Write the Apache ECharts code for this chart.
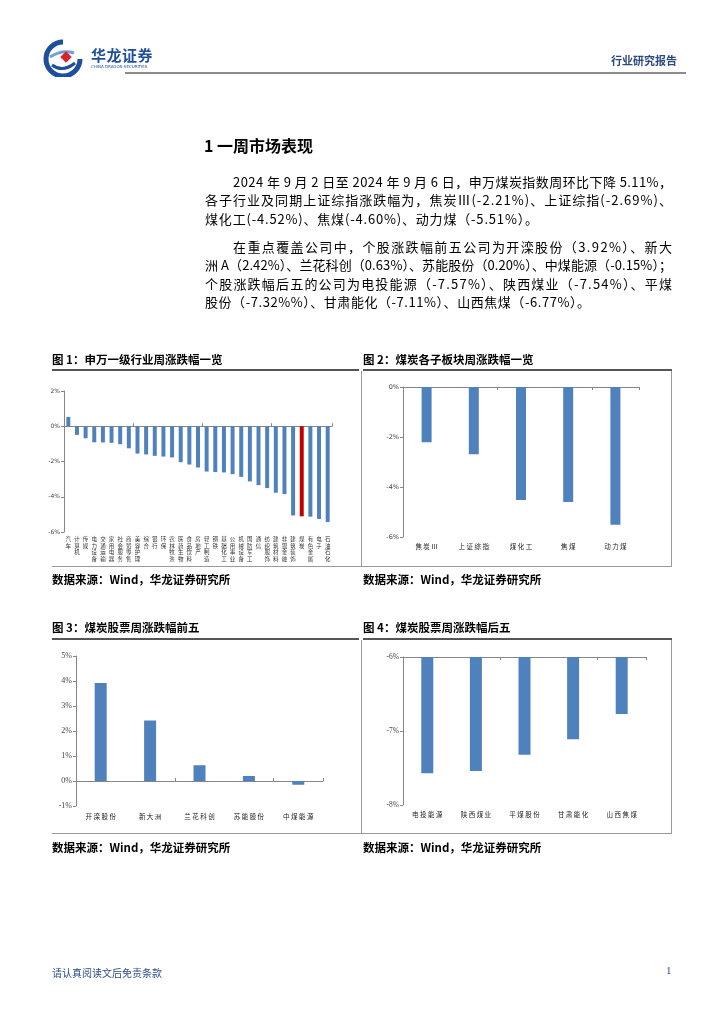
<!DOCTYPE html>
<html><head><meta charset="utf-8">
<script src="https://cdn.jsdelivr.net/npm/echarts/dist/echarts.min.js"></script>
<style>
body{margin:0;width:724px;height:1024px;position:relative;background:#fff;font-family:"Noto Sans CJK SC","Noto Sans",sans-serif;overflow:hidden;color:#000}
.a{position:absolute;white-space:nowrap}
.jl{position:absolute;white-space:nowrap;font-size:13px;line-height:18px;display:inline-block}
.ttl{position:absolute;white-space:nowrap;font-size:11.5px;font-weight:bold;line-height:14px}
.hl{position:absolute;background:#555}
.tl{position:absolute;background:#9a9a9a}
#c{position:absolute;left:0;top:0;width:724px;height:1024px}
</style></head><body>
<div id="c"></div>

<svg class="a" style="left:42px;top:39px" width="42" height="38" viewBox="0 0 42 38">
  <path d="M21 3 A17 17 0 1 0 38 20" stroke="#1d4f9c" stroke-width="5" fill="none"/>
  <path d="M10 26 Q21 34 33 24" stroke="#1d4f9c" stroke-width="3" fill="none"/>
  <path d="M8 18 Q20 10 32 14" stroke="#6fa0d8" stroke-width="3" fill="none"/>
  <rect x="20" y="14" width="8" height="8" fill="#d9252a" transform="rotate(45 24 18)"/>
</svg>
<div class="a" style="left:91px;top:44px;font-size:15px;font-weight:bold;color:#1d4f9c;letter-spacing:0.5px">华龙证券</div>
<div class="a" style="left:91px;top:64px;font-size:4px;color:#1d4f9c;font-family:'DejaVu Sans'">CHINA DRAGON SECURITIES</div>
<div class="a" style="left:125px;top:72px;width:561px;height:2px;background:#8c8c8c"></div>
<div class="a" style="left:611px;top:52px;font-size:11px;font-weight:bold;color:#2a4a80">行业研究报告</div>

<div class="a" style="left:204px;top:134px;font-size:16px;font-weight:bold;line-height:22px">1 一周市场表现</div>

<div class="jl" data-w="439" style="left:233px;top:173px">2024 年 9 月 2 日至 2024 年 9 月 6 日，申万煤炭指数周环比下降 5.11%，</div>
<div class="jl" data-w="467" style="left:205px;top:191px">各子行业及同期上证综指涨跌幅为，焦炭Ⅲ(-2.21%)、上证综指(-2.69%)、</div>
<div class="jl" data-w="333" style="left:205px;top:209.5px">煤化工(-4.52%)、焦煤(-4.60%)、动力煤（-5.51%）。</div>
<div class="jl" data-w="439" style="left:233px;top:237.5px">在重点覆盖公司中，个股涨跌幅前五公司为开滦股份（3.92%）、新大</div>
<div class="jl" data-w="467" style="left:205px;top:256px">洲 A（2.42%）、兰花科创（0.63%）、苏能股份（0.20%）、中煤能源（-0.15%）；</div>
<div class="jl" data-w="467" style="left:205px;top:274.5px">个股涨跌幅后五的公司为电投能源（-7.57%）、陕西煤业（-7.54%）、平煤</div>
<div class="jl" data-w="385" style="left:205px;top:293px">股份（-7.32%%）、甘肃能化（-7.11%）、山西焦煤（-6.77%）。</div>

<div class="ttl" style="left:52px;top:352px">图 1：申万一级行业周涨跌幅一览</div>
<div class="ttl" style="left:363px;top:352px">图 2：煤炭各子板块周涨跌幅一览</div>
<div class="hl" style="left:52px;top:369px;width:307px;height:2px"></div>
<div class="hl" style="left:363px;top:369px;width:309px;height:2px"></div>
<div class="tl" style="left:361px;top:371px;width:1px;height:195px"></div>
<div class="tl" style="left:671px;top:371px;width:1px;height:195px"></div>
<div class="tl" style="left:52px;top:566px;width:620px;height:1px"></div>
<div class="ttl" style="left:52px;top:572px">数据来源：Wind，华龙证券研究所</div>
<div class="ttl" style="left:363px;top:572px">数据来源：Wind，华龙证券研究所</div>

<div class="ttl" style="left:52px;top:620px">图 3：煤炭股票周涨跌幅前五</div>
<div class="ttl" style="left:363px;top:620px">图 4：煤炭股票周涨跌幅后五</div>
<div class="hl" style="left:52px;top:638px;width:307px;height:2px"></div>
<div class="hl" style="left:363px;top:638px;width:309px;height:2px"></div>
<div class="tl" style="left:361px;top:640px;width:1px;height:193px"></div>
<div class="tl" style="left:671px;top:640px;width:1px;height:193px"></div>
<div class="tl" style="left:52px;top:833px;width:620px;height:1px"></div>
<div class="ttl" style="left:52px;top:840px">数据来源：Wind，华龙证券研究所</div>
<div class="ttl" style="left:363px;top:840px">数据来源：Wind，华龙证券研究所</div>

<div class="a" style="left:52px;top:965px;font-size:10px;color:#2f4f86">请认真阅读文后免责条款</div>
<div class="a" style="left:666px;top:964px;font-size:11px;color:#2f4f86;font-family:'Liberation Serif'">1</div>

<script>
// ---- data ----
const industryCats = ['汽车','计算机','传媒','电力设备','交通运输','家用电器','社会服务','商贸零售','美容护理','综合','银行','环保','农林牧渔','医药生物','食品饮料','房地产','轻工制造','钢铁','基础化工','公用事业','机械设备','国防军工','通信','纺织服饰','建筑材料','非银金融','建筑装饰','煤炭','有色金属','电子','石油石化'];
const industryVals = [0.53,-0.49,-0.68,-0.91,-0.92,-0.94,-1.02,-1.25,-1.55,-1.60,-1.68,-1.72,-1.77,-2.04,-2.17,-2.34,-2.57,-2.60,-2.62,-2.72,-2.87,-3.13,-3.34,-3.51,-3.77,-3.85,-5.06,-5.11,-5.13,-5.26,-5.43];
const highlightCat = '煤炭';
const subCats = ['焦炭Ⅲ','上证综指','煤化工','焦煤','动力煤'];
const subVals = [-2.21,-2.69,-4.52,-4.60,-5.51];
const topCats = ['开滦股份','新大洲','兰花科创','苏能股份','中煤能源'];
const topVals = [3.92,2.42,0.63,0.20,-0.15];
const bottomCats = ['电投能源','陕西煤业','平煤股份','甘肃能化','山西焦煤'];
const bottomVals = [-7.57,-7.54,-7.32,-7.11,-6.77];

// ---- justify text lines ----
document.querySelectorAll('.jl').forEach(el=>{
  const w = +el.dataset.w;
  const cur = el.getBoundingClientRect().width;
  const n = el.textContent.length;
  el.style.letterSpacing = ((w-cur)/(n-1))+'px';
});

const BLUE='#4f81bd', RED='#c00000', AX='#868686';
const spaced = v => v.split('').join(' ');
function yAx(gi,min,max,itv,fs,ff){
  return {type:'value',gridIndex:gi,min:min,max:max,interval:itv,
    axisLine:{show:true,lineStyle:{color:AX,width:1}},
    axisTick:{show:true,length:3,lineStyle:{color:AX}},
    splitLine:{show:false},
    axisLabel:{fontSize:fs,color:'#444',fontFamily:ff,margin:4,formatter:v=>Math.round(v)+'%'}};
}
function xLab(gi,cats,opt){
  return Object.assign({type:'category',gridIndex:gi,data:cats,position:'bottom',
    axisLine:{show:false,onZero:false},axisTick:{show:false},splitLine:{show:false}},opt);
}
function xLine(gi,cats,pos,inside){
  return {type:'category',gridIndex:gi,data:cats,position:pos,
    axisLine:{show:true,onZero:true,lineStyle:{color:AX,width:1}},
    axisTick:{show:true,length:3,inside:inside,lineStyle:{color:AX}},
    axisLabel:{show:false},splitLine:{show:false}};
}
const ff='"Noto Sans CJK SC",sans-serif';
const option={
  animation:false,
  grid:[
    {left:64,top:391,width:268,height:141},
    {left:403,top:387,width:236,height:150},
    {left:76,top:656,width:247,height:150},
    {left:403,top:657,width:243,height:148}
  ],
  xAxis:[
    xLab(0,industryCats,{axisLabel:{interval:0,fontSize:5.5,lineHeight:6.5,margin:4,color:'#333',fontFamily:ff,verticalAlign:'top',formatter:v=>v.split('').join('\n')}}),
    xLine(0,industryCats,'top',false),
    xLab(1,subCats,{axisLabel:{interval:0,fontSize:6.5,margin:6,color:'#222',fontFamily:ff,formatter:spaced}}),
    xLine(1,subCats,'top',true),
    xLab(2,topCats,{axisLabel:{interval:0,fontSize:6.5,margin:7,color:'#222',fontFamily:ff,formatter:spaced}}),
    xLine(2,topCats,'top',false),
    xLab(3,bottomCats,{axisLabel:{interval:0,fontSize:6.5,margin:6,color:'#222',fontFamily:ff,formatter:spaced}}),
    xLine(3,bottomCats,'top',true)
  ],
  yAxis:[
    yAx(0,-6,2,2,6,'"DejaVu Sans",sans-serif'),
    yAx(1,-6,0,2,6.5,'"DejaVu Sans",sans-serif'),
    yAx(2,-1,5,1,8,'"Liberation Serif",serif'),
    yAx(3,-8,-6,1,7.5,'"Liberation Serif",serif')
  ],
  series:[
    {type:'bar',xAxisIndex:0,yAxisIndex:0,data:industryVals,barWidth:'46%',
      itemStyle:{color:p=>p.name===highlightCat?RED:BLUE}},
    {type:'bar',xAxisIndex:2,yAxisIndex:1,data:subVals,barWidth:10,itemStyle:{color:BLUE}},
    {type:'bar',xAxisIndex:4,yAxisIndex:2,data:topVals,barWidth:12,itemStyle:{color:BLUE}},
    {type:'bar',xAxisIndex:6,yAxisIndex:3,data:bottomVals,barWidth:12,clip:true,itemStyle:{color:BLUE}}
  ]
};
const chart=echarts.init(document.getElementById('c'),null,{renderer:'canvas'});
chart.setOption(option);
</script>
</body></html>
